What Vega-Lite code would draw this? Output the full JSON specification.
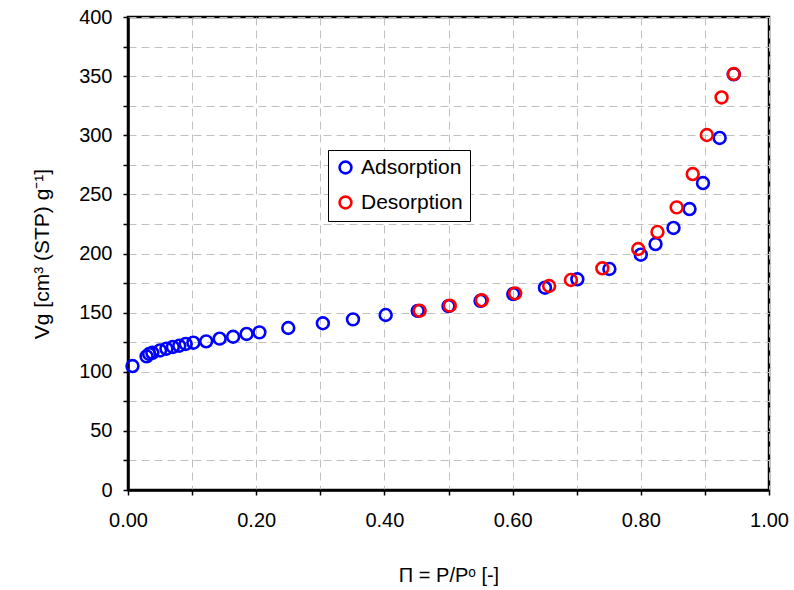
{
  "$schema": "https://vega.github.io/schema/vega-lite/v6.json",
  "width": 641,
  "height": 473,
  "autosize": {"type": "none"},
  "padding": {"left": 128, "top": 17, "right": 25, "bottom": 100},
  "background": "white",
  "config": {
    "font": "Liberation Sans",
    "view": {"stroke": "black", "strokeWidth": 2.5}
  },
  "data": {
    "values": [
      {"p": 0.007, "v": 104.8, "series": "Adsorption"},
      {"p": 0.029, "v": 113, "series": "Adsorption"},
      {"p": 0.033, "v": 115, "series": "Adsorption"},
      {"p": 0.038, "v": 116, "series": "Adsorption"},
      {"p": 0.05, "v": 118, "series": "Adsorption"},
      {"p": 0.06, "v": 119.5, "series": "Adsorption"},
      {"p": 0.07, "v": 121, "series": "Adsorption"},
      {"p": 0.08, "v": 122, "series": "Adsorption"},
      {"p": 0.09, "v": 123.5, "series": "Adsorption"},
      {"p": 0.102, "v": 124.6, "series": "Adsorption"},
      {"p": 0.122, "v": 125.7, "series": "Adsorption"},
      {"p": 0.143, "v": 128, "series": "Adsorption"},
      {"p": 0.164, "v": 129.6, "series": "Adsorption"},
      {"p": 0.185, "v": 132, "series": "Adsorption"},
      {"p": 0.205, "v": 133.3, "series": "Adsorption"},
      {"p": 0.25, "v": 137, "series": "Adsorption"},
      {"p": 0.304, "v": 141, "series": "Adsorption"},
      {"p": 0.351, "v": 144.3, "series": "Adsorption"},
      {"p": 0.402, "v": 148, "series": "Adsorption"},
      {"p": 0.452, "v": 151.5, "series": "Adsorption"},
      {"p": 0.5, "v": 155.5, "series": "Adsorption"},
      {"p": 0.55, "v": 160, "series": "Adsorption"},
      {"p": 0.601, "v": 165.7, "series": "Adsorption"},
      {"p": 0.6505, "v": 171.1, "series": "Adsorption"},
      {"p": 0.701, "v": 178.2, "series": "Adsorption"},
      {"p": 0.751, "v": 186.9, "series": "Adsorption"},
      {"p": 0.8, "v": 199, "series": "Adsorption"},
      {"p": 0.823, "v": 208, "series": "Adsorption"},
      {"p": 0.851, "v": 221.6, "series": "Adsorption"},
      {"p": 0.876, "v": 237.6, "series": "Adsorption"},
      {"p": 0.897, "v": 259.6, "series": "Adsorption"},
      {"p": 0.923, "v": 297.7, "series": "Adsorption"},
      {"p": 0.945, "v": 351.5, "series": "Adsorption"},
      {"p": 0.455, "v": 151.6, "series": "Desorption"},
      {"p": 0.502, "v": 155.9, "series": "Desorption"},
      {"p": 0.552, "v": 160.4, "series": "Desorption"},
      {"p": 0.604, "v": 166.3, "series": "Desorption"},
      {"p": 0.657, "v": 172.5, "series": "Desorption"},
      {"p": 0.691, "v": 177.6, "series": "Desorption"},
      {"p": 0.74, "v": 187.5, "series": "Desorption"},
      {"p": 0.796, "v": 203.8, "series": "Desorption"},
      {"p": 0.826, "v": 218.2, "series": "Desorption"},
      {"p": 0.856, "v": 239, "series": "Desorption"},
      {"p": 0.881, "v": 267.2, "series": "Desorption"},
      {"p": 0.903, "v": 300.2, "series": "Desorption"},
      {"p": 0.926, "v": 332, "series": "Desorption"},
      {"p": 0.945, "v": 351.8, "series": "Desorption"}
    ]
  },
  "mark": {"type": "point", "shape": "circle", "filled": false, "strokeWidth": 2.6, "size": 140, "opacity": 1},
  "encoding": {
    "x": {
      "field": "p",
      "type": "quantitative",
      "scale": {"domain": [0, 1], "nice": false, "zero": false},
      "axis": {
        "title": "Π = P/Pᵒ [-]",
        "values": [0, 0.1, 0.2, 0.3, 0.4, 0.5, 0.6, 0.7, 0.8, 0.9, 1.0],
        "labelExpr": "round(datum.value * 10) % 2 == 0 ? format(datum.value, '.2f') : ''",
        "labelFlush": false,
        "labelOverlap": false,
        "labelFontSize": 20,
        "labelColor": "black",
        "labelPadding": 15,
        "tickSize": 5,
        "tickColor": "black",
        "tickWidth": 1.5,
        "domainColor": "black",
        "domainWidth": 2.5,
        "grid": true,
        "gridColor": "#c0c0c0",
        "gridDash": [8, 5],
        "gridWidth": 1,
        "titleFontSize": 20,
        "titleFontWeight": "normal",
        "titleColor": "black",
        "titlePadding": 35
      }
    },
    "y": {
      "field": "v",
      "type": "quantitative",
      "scale": {"domain": [0, 400], "nice": false},
      "axis": {
        "title": "Vg [cm³ (STP) g⁻¹]",
        "values": [0, 25, 50, 75, 100, 125, 150, 175, 200, 225, 250, 275, 300, 325, 350, 375, 400],
        "labelExpr": "datum.value % 50 == 0 ? format(datum.value, 'd') : ''",
        "labelFlush": false,
        "labelOverlap": false,
        "labelFontSize": 20,
        "labelColor": "black",
        "labelPadding": 11,
        "tickSize": 5,
        "tickColor": "black",
        "tickWidth": 1.5,
        "domainColor": "black",
        "domainWidth": 2.5,
        "grid": true,
        "gridColor": "#c0c0c0",
        "gridDash": [8, 5],
        "gridWidth": 1,
        "titleFontSize": 21,
        "titleFontWeight": "normal",
        "titleColor": "black",
        "titlePadding": 26
      }
    },
    "color": {
      "field": "series",
      "type": "nominal",
      "scale": {"domain": ["Adsorption", "Desorption"], "range": ["#0000ff", "#ff0000"]},
      "legend": {
        "title": null,
        "orient": "none",
        "legendX": 200,
        "legendY": 133,
        "symbolType": "circle",
        "symbolSize": 140,
        "symbolStrokeWidth": 2.6,
        "symbolFillColor": "white",
        "labelFontSize": 21,
        "labelColor": "black",
        "labelOffset": 5,
        "rowPadding": 12,
        "padding": 7,
        "strokeColor": "black",
        "fillColor": "white",
        "encode": {"legend": {"update": {"strokeWidth": {"value": 1.5}}}}
      }
    }
  }
}
